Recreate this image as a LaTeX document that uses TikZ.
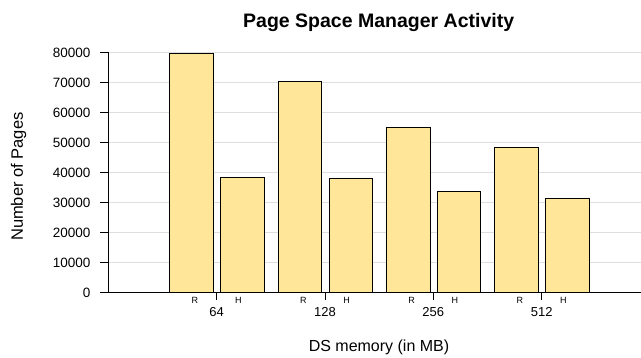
\documentclass[tikz,border=0pt]{standalone}
\usepackage{fontspec}
\setmainfont{Liberation Sans}
\definecolor{barfill}{RGB}{255,230,153}
\definecolor{gridc}{RGB}{222,222,222}
\begin{document}
\begin{tikzpicture}[x=1pt,y=-1pt,
  gridline/.style={draw=gridc,line width=1.3pt},
  axisline/.style={draw=black,line width=0.9pt},
  bar/.style={draw=black,line width=0.8pt,fill=barfill},
  ticklab/.style={anchor=base east,inner sep=0pt,font=\fontsize{13.5}{14}\selectfont},
  sublab/.style={anchor=base,inner sep=0pt,font=\fontsize{9}{10}\selectfont},
  grouplab/.style={anchor=base,inner sep=0pt,font=\fontsize{13}{14}\selectfont}]
\useasboundingbox (0,0) rectangle (641,358);
% gridlines
\foreach \v in {1,...,8}{
  \draw[gridline] (108.3,{292.3-30*\v}) -- (641,{292.3-30*\v});
}
% y ticks and labels
\foreach \v/\t in {0/0,1/10000,2/20000,3/30000,4/40000,5/50000,6/60000,7/70000,8/80000}{
  \draw[axisline,line width=0.7pt] (100,{292.3-30*\v}) -- (108.3,{292.3-30*\v});
  \node[ticklab] (yl\v) at (90.5,{292.3-30*\v+5.3}) {\t};
}
% bars (values in hundreds)
\foreach \k/\r/\h/\g in {1/796/384/64,2/704/378/128,3/549/335/256,4/482/313/512}{
  \pgfmathsetmacro{\T}{108.33*(\k+1)}
  \draw[bar] ({\T-47},292.3) rectangle ({\T-3.4},{292.3-0.3*\r});
  \draw[bar] ({\T+4},292.3) rectangle ({\T+47.4},{292.3-0.3*\h});
  \draw[axisline,line width=0.7pt] (\T,292.3) -- (\T,300);
  \node[sublab] (r\k) at ({\T-21.7},303.3) {R};
  \node[sublab] (h\k) at ({\T+21.6},303.3) {H};
  \node[grouplab] (g\k) at (\T,316.7) {\g};
}
% axes
\draw[axisline] (108.3,52.3) -- (108.3,292.3);
\draw[axisline] (108.3,292.3) -- (641,292.3);
% titles
\node[anchor=base,inner sep=0pt,font=\fontsize{19.5}{20}\bfseries] (title) at (378.7,27.7) {Page Space Manager Activity};
\node[anchor=base,inner sep=0pt,font=\fontsize{16}{17}\selectfont] (xt) at (379,352) {DS memory (in MB)};
\node[rotate=90,inner sep=0pt,font=\fontsize{16.5}{17}\selectfont] (yt) at (18.5,176.7) {Number of Pages};
\end{tikzpicture}
\end{document}
